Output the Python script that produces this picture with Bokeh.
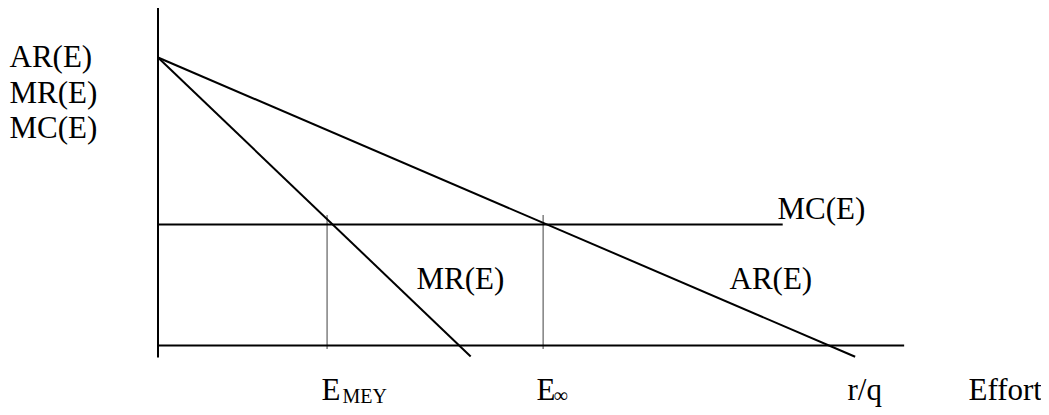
from bokeh.plotting import figure
from bokeh.models import Range1d
from bokeh.core.properties import value
from bokeh.embed import file_html
from bokeh.resources import INLINE

# ---- diagram data (arbitrary economic units) ----
effort_ar = [0.0, 10.39]
ar_values = [10.0, -0.39]
effort_mr = [0.0, 4.66]
mr_values = [10.0, -0.38]
effort_mc = [0.0, 9.31]
mc_values = [4.2, 4.2]
e_mey = 2.52
e_inf = 5.74
dotted_top = 4.51
dotted_bottom = -0.1
axis_x = [0.0, 11.12]
axis_y = [-0.42, 11.72]

y_axis_labels = ["AR(E)", "MR(E)", "MC(E)"]
curve_labels = ["MC(E)", "MR(E)", "AR(E)"]
x_main_labels = ["E", "E", "r/q", "Effort"]
x_sub_labels = ["MEY", "\u221e"]

# ---- layout (pixel anchors -> data units) ----
W, H = 1041, 407
PX0, PY0 = 157.5, 345.0
SX, SY = 67.1, 28.8


def dx(px):
    return (px - PX0) / SX


def dy(py):
    return (PY0 - py) / SY


p = figure(width=W, height=H, output_backend="svg", toolbar_location=None,
           x_range=Range1d(dx(0), dx(W)), y_range=Range1d(dy(H), dy(0)),
           min_border=0, outline_line_color=None)
p.axis.visible = False
p.grid.visible = False
p.background_fill_color = "white"
p.border_fill_color = "white"

FONT = value("Liberation Serif")
MAIN = "31px"
SUB = "20px"
col = "black"

# axes
p.line([0, 0], axis_y, line_color=col, line_width=2)
p.line(axis_x, [0, 0], line_color=col, line_width=2)
# curves
p.line(effort_ar, ar_values, line_color=col, line_width=2)
p.line(effort_mr, mr_values, line_color=col, line_width=2)
p.line(effort_mc, mc_values, line_color=col, line_width=2)
# dotted verticals
p.segment(x0=[e_mey, e_inf], y0=[dotted_bottom] * 2, x1=[e_mey, e_inf], y1=[dotted_top] * 2,
          line_color=col, line_width=1.5, line_dash="1 1")

# y-axis title lines (vertical middle of each text line)
p.text(x=[dx(9)] * 3, y=[dy(56), dy(92), dy(127)], text=y_axis_labels,
       text_font=FONT, text_font_size=MAIN, text_color=col,
       text_align="left", text_baseline="middle")
# curve labels
p.text(x=[dx(777), dx(416), dx(729)], y=[dy(208), dy(278), dy(278)], text=curve_labels,
       text_font=FONT, text_font_size=MAIN, text_color=col,
       text_align="left", text_baseline="middle")
# x labels
p.text(x=[dx(321), dx(536), dx(847), dx(968)], y=[dy(389), dy(389), dy(389), dy(389)],
       text=x_main_labels, text_font=FONT, text_font_size=MAIN, text_color=col,
       text_align="left", text_baseline="middle")
p.text(x=[dx(342), dx(553)], y=[dy(395), dy(394)], text=x_sub_labels,
       text_font=FONT, text_font_size=SUB, text_color=col,
       text_align="left", text_baseline="middle")

open("out.html", "w").write(file_html(p, INLINE))
